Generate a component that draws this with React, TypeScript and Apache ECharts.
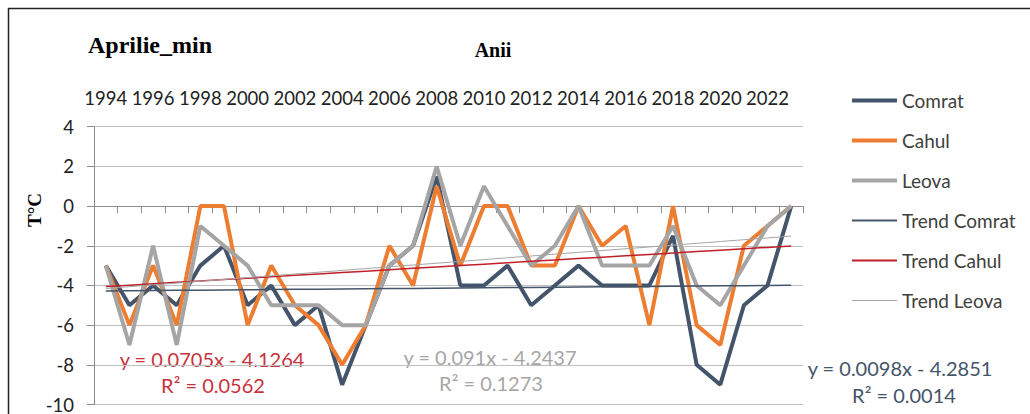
import React, { useEffect, useRef } from "react";
import * as echarts from "echarts";

const years = ["1994","1995","1996","1997","1998","1999","2000","2001","2002","2003","2004","2005","2006","2007","2008","2009","2010","2011","2012","2013","2014","2015","2016","2017","2018","2019","2020","2021","2022","2023"];
const comrat = [-3,-5,-4,-5,-3,-2,-5,-4,-6,-5,-9,-6,-3,-2,1.5,-4,-4,-3,-5,-4,-3,-4,-4,-4,-1.5,-8,-9,-5,-4,0];
const cahul = [-3,-6,-3,-6,0,0,-6,-3,-5,-6,-8,-6,-2,-4,1,-3,0,0,-3,-3,0,-2,-1,-6,0,-6,-7,-2,-1,0];
const leova = [-3,-7,-2,-7,-1,-2,-3,-5,-5,-5,-6,-6,-3,-2,2,-2,1,-1,-3,-2,0,-3,-3,-3,-1,-4,-5,-3,-1,0];
const yTicks = [4, 2, 0, -2, -4, -6, -8, -10];

// Trendline coefficients as printed on the chart: [slope, intercept]
const trendComratCoef = [0.0098, -4.2851];
const trendCahulCoef = [0.0705, -4.1264];
const trendLeovaCoef = [0.091, -4.2437];

const trend = (coef: number[]) => years.map((_, i) => +(coef[0] * (i + 1) + coef[1]).toFixed(4));

const SANS = "Lato";
const SERIF = "Liberation Serif";

export default function App() {
  const ref = useRef<HTMLDivElement>(null);
  useEffect(() => {
    if (!ref.current) return;
    const chart = echarts.init(ref.current, null, { renderer: "svg" });
    const lineSeries = (name: string, data: number[], color: string, width: number) => ({
      name,
      type: "line",
      data,
      symbol: "none",
      showSymbol: false,
      lineStyle: { color, width },
      itemStyle: { color },
      z: 2,
    });
    const legendItem = (name: string, color: string, width: number) => ({
      name,
      itemStyle: { opacity: 0 },
      lineStyle: { color, width },
    });
    chart.setOption({
      animation: false,
      backgroundColor: "#ffffff",
      grid: { left: 94, top: 126.7, right: 227, bottom: 9, containLabel: false },
      legend: {
        orient: "vertical",
        left: 845,
        top: 86,
        itemWidth: 45,
        itemHeight: 14,
        itemGap: 21,
        itemStyle: { opacity: 0 },
        textStyle: { fontFamily: SANS, fontSize: 19, color: "#404040" },
        data: [
          legendItem("Comrat", "#44546A", 4),
          legendItem("Cahul", "#ED7D31", 4),
          legendItem("Leova", "#A5A5A5", 4),
          legendItem("Trend Comrat", "#44546A", 2),
          legendItem("Trend Cahul", "#C0202A", 2),
          legendItem("Trend Leova", "#A5A5A5", 1),
        ],
      },
      xAxis: [
        {
          type: "category",
          data: years,
          position: "top",
          boundaryGap: true,
          axisLine: { show: false, onZero: false },
          axisTick: { show: false },
          axisLabel: { interval: 1, fontFamily: SANS, fontSize: 18.5, color: "#222", margin: 19 },
          splitLine: { show: false },
        },
        {
          type: "category",
          data: years,
          position: "bottom",
          boundaryGap: true,
          axisLine: { show: true, onZero: true, onZeroAxisIndex: 0, lineStyle: { color: "#8c8c8c", width: 1 } },
          axisTick: { show: true, interval: 0, length: 7, lineStyle: { color: "#8c8c8c" } },
          axisLabel: { show: false },
          splitLine: { show: false },
        },
      ],
      yAxis: {
        type: "value",
        min: yTicks[yTicks.length - 1],
        max: yTicks[0],
        interval: 2,
        axisLine: { show: true, lineStyle: { color: "#8c8c8c" } },
        axisTick: { show: true, length: 7, lineStyle: { color: "#8c8c8c" } },
        axisLabel: { fontFamily: SANS, fontSize: 18.5, color: "#222", margin: 20 },
        splitLine: { show: true, lineStyle: { color: "#bfbfbf", width: 1 } },
      },
      series: [
        lineSeries("Comrat", comrat, "#44546A", 4),
        lineSeries("Cahul", cahul, "#ED7D31", 4),
        lineSeries("Leova", leova, "#A5A5A5", 4),
        { ...lineSeries("Trend Comrat", trend(trendComratCoef), "#44546A", 1.5), z: 3 },
        { ...lineSeries("Trend Cahul", trend(trendCahulCoef), "#C0202A", 1.5), z: 3 },
        { ...lineSeries("Trend Leova", trend(trendLeovaCoef), "#A5A5A5", 1), z: 3 },
      ],
      graphic: [
        {
          type: "rect",
          shape: { x: 8.5, y: 8.5, width: 1100, height: 500 },
          style: { fill: "none", stroke: "#222", lineWidth: 1.5 },
          silent: true,
        },
        {
          type: "text",
          x: 88,
          y: 45,
          style: { text: "Aprilie_min", font: `bold 24px "${SERIF}"`, fill: "#000", textVerticalAlign: "middle" },
        },
        {
          type: "text",
          x: 493,
          y: 50,
          style: { text: "Anii", font: `bold 20px "${SERIF}"`, fill: "#000", textAlign: "center", textVerticalAlign: "middle" },
        },
        {
          type: "text",
          x: 34,
          y: 210,
          rotation: Math.PI / 2,
          style: { text: "T°C", font: `bold 19px "${SERIF}"`, fill: "#000", textAlign: "center", textVerticalAlign: "middle" },
        },
        {
          type: "text",
          x: 212,
          y: 359,
          style: { text: "y = 0.0705x - 4.1264", font: `20px ${SANS}`, fill: "#C8323C", textAlign: "center", textVerticalAlign: "middle" },
        },
        {
          type: "text",
          x: 213,
          y: 385,
          style: { text: "R² = 0.0562", font: `20px ${SANS}`, fill: "#C8323C", textAlign: "center", textVerticalAlign: "middle" },
        },
        {
          type: "text",
          x: 490,
          y: 357,
          style: { text: "y = 0.091x - 4.2437", font: `20px ${SANS}`, fill: "#A6A6A6", textAlign: "center", textVerticalAlign: "middle" },
        },
        {
          type: "text",
          x: 491,
          y: 383,
          style: { text: "R² = 0.1273", font: `20px ${SANS}`, fill: "#A6A6A6", textAlign: "center", textVerticalAlign: "middle" },
        },
        {
          type: "text",
          x: 900,
          y: 368,
          style: { text: "y = 0.0098x - 4.2851", font: `20px ${SANS}`, fill: "#44546A", textAlign: "center", textVerticalAlign: "middle" },
        },
        {
          type: "text",
          x: 904,
          y: 395,
          style: { text: "R² = 0.0014", font: `20px ${SANS}`, fill: "#44546A", textAlign: "center", textVerticalAlign: "middle" },
        },
      ],
    });
    return () => chart.dispose();
  }, []);
  return (
    <div
      ref={ref}
      style={{ position: "fixed", left: 0, top: 0, width: 1030, height: 414, background: "#fff" }}
    />
  );
}
